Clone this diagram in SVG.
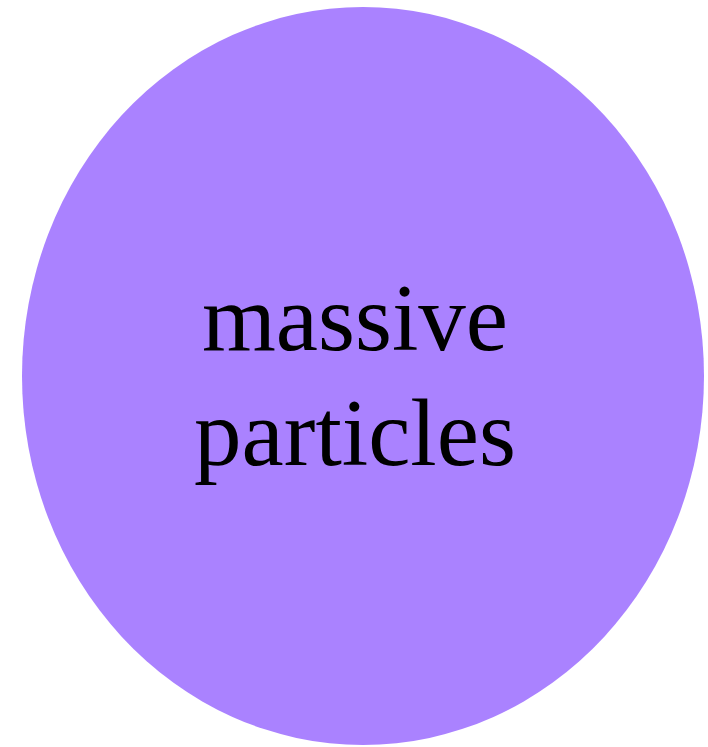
<svg xmlns="http://www.w3.org/2000/svg" width="708" height="747" viewBox="0 0 708 747">
<style>
.lbl{font-family:"Liberation Serif","Times New Roman",serif;font-size:95px;fill:#000;text-anchor:middle}
</style>
<rect width="708" height="747" fill="#fff"/>
<g id="node-massive-particles">
<ellipse cx="363" cy="376" rx="341" ry="369" fill="#AA82FF"/>
<text class="lbl" x="355" y="350">massive</text>
<text class="lbl" x="355" y="465">particles</text>
</g>
</svg>
